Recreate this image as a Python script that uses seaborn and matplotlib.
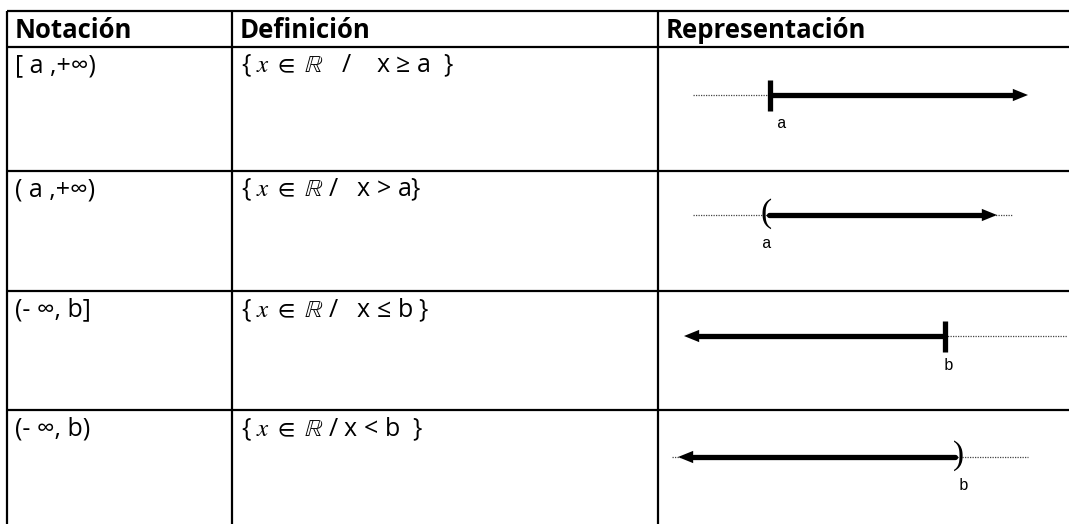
import seaborn as sns
import matplotlib.pyplot as plt
import pandas as pd

# table content
headers = ["Notación", "Definición", "Representación"]
notations = ["[ a ,+∞)", "( a ,+∞)", "(- ∞, b]", "(- ∞, b)"]
definitions = [
    r"{ $x\ \in\ \mathbb{R}$   /    x ≥ a  }",
    r"{ $x\ \in\ \mathbb{R}$ /   x > a}",
    r"{ $x\ \in\ \mathbb{R}$ /   x ≤ b }",
    r"{ $x\ \in\ \mathbb{R}$ / x < b  }",
]

# number line drawings (pixel scale of the picture)
endpoint_labels = ["a", "a", "b", "b"]
endpoint_closed = [True, False, True, False]
endpoints = [770, 769, 945, 955]
arrow_tips = [1028, 997, 684, 678]
guide_start = [693, 693, 945, 672]
guide_end = [770, 1013, 1067, 1028]

W, H = 1069, 524
ROW_LINES = [11, 47, 171, 291, 410]
COL_LINES = [7, 232, 658]
LINE_Y = [95, 215, 336, 457]

sns.set_theme(style="white")
plt.rcParams["font.family"] = ["Open Sans", "DejaVu Sans"]
plt.rcParams["mathtext.fontset"] = "stix"
plt.rcParams["text.color"] = "black"

fig = plt.figure(figsize=(W / 100, H / 100), dpi=100)
ax = fig.add_axes([0, 0, 1, 1])
ax.set_xlim(0, W)
ax.set_ylim(H, 0)
ax.axis("off")

# table grid
ax.hlines(ROW_LINES, COL_LINES[0], W, color="black", lw=1.6)
ax.vlines(COL_LINES, ROW_LINES[0], H, color="black", lw=1.6)

# header and rows of text
for x, txt in zip(COL_LINES, headers):
    ax.text(x + 8, (ROW_LINES[0] + ROW_LINES[1]) / 2 + 1, txt,
            fontsize=18.5, fontweight="bold", va="center", ha="left")

for i, (nota, defi) in enumerate(zip(notations, definitions)):
    y = ROW_LINES[i + 1] + 19
    ax.text(COL_LINES[0] + 8, y, nota, fontsize=18, va="center", ha="left")
    ax.text(COL_LINES[1] + 9, y, defi, fontsize=18, va="center", ha="left")

# number lines
rows = []
guides = []
for i in range(4):
    step = 15 if arrow_tips[i] > endpoints[i] else -15
    rows.append(pd.DataFrame({"x": [endpoints[i], arrow_tips[i] - step],
                              "y": [LINE_Y[i]] * 2, "seg": i}))
    guides.append(pd.DataFrame({"x": [guide_start[i], guide_end[i]],
                                "y": [LINE_Y[i]] * 2, "seg": i}))
seg_df = pd.concat(rows, ignore_index=True)
guide_df = pd.concat(guides, ignore_index=True)

sns.lineplot(data=guide_df, x="x", y="y", units="seg", estimator=None,
             sort=False, color="#444444", lw=0.9, linestyle=(0, (1, 1)), ax=ax)
sns.lineplot(data=seg_df, x="x", y="y", units="seg", estimator=None,
             sort=False, color="black", lw=3.8, ax=ax)

for i in range(4):
    right = arrow_tips[i] > endpoints[i]
    y = LINE_Y[i]
    base = arrow_tips[i] - 17 if right else arrow_tips[i] + 17
    ax.annotate("", xy=(arrow_tips[i], y), xytext=(base, y),
                arrowprops=dict(arrowstyle="-|>,head_length=0.42,head_width=0.17",
                                mutation_scale=26, color="black", lw=0,
                                shrinkA=0, shrinkB=0))
    if endpoint_closed[i]:
        ax.vlines(endpoints[i], y - 15, y + 16, color="black", lw=3.8)
        lab_dx = 12 if right else 3
    else:
        paren = "(" if right else ")"
        ax.text(endpoints[i] + (-3 if right else 3), y - 1, paren,
                family="Liberation Serif", fontsize=24, va="center",
                ha="center")
        lab_dx = -2 if right else 8
    ax.text(endpoints[i] + lab_dx, y + 29, endpoint_labels[i],
            family="Liberation Mono", fontsize=11.5, va="center", ha="center")

fig.savefig("out.png", dpi=100, facecolor="white")
